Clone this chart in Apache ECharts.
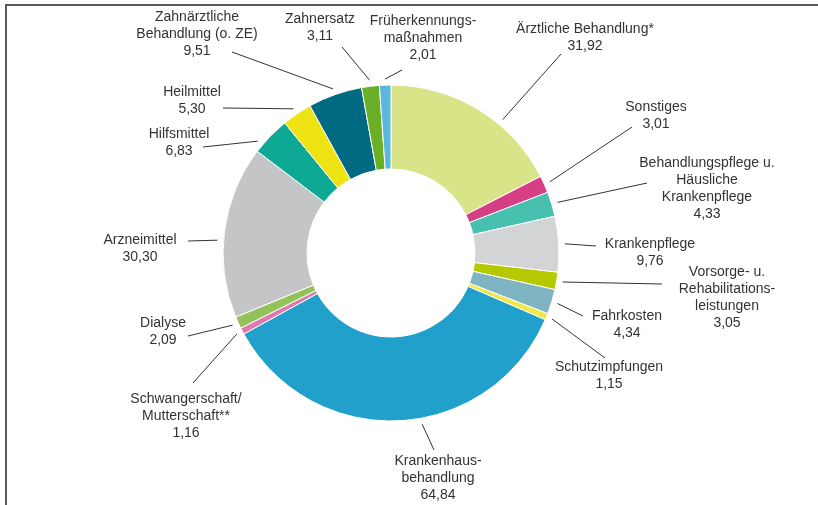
<!DOCTYPE html>
<html>
<head>
<meta charset="utf-8">
<script src="https://cdn.jsdelivr.net/npm/echarts@6/dist/echarts.min.js"></script>
<style>
  html, body { margin: 0; padding: 0; background: #fff; }
  #chart { width: 818px; height: 505px; }
  .frame { position: absolute; left: 5px; top: 4px; right: 0; bottom: 0;
    border-left: 2px solid #5a5a5a; border-top: 2px solid #5a5a5a; pointer-events: none; }
</style>
</head>
<body>
<div id="chart"></div>
<div class="frame"></div>
<script>
// Ausgaben in Mrd. Euro, im Uhrzeigersinn ab 12 Uhr
const names = [
  'Ärztliche Behandlung*',
  'Sonstiges',
  'Behandlungspflege u.\nHäusliche\nKrankenpflege',
  'Krankenpflege',
  'Vorsorge- u.\nRehabilitations-\nleistungen',
  'Fahrkosten',
  'Schutzimpfungen',
  'Krankenhaus-\nbehandlung',
  'Schwangerschaft/\nMutterschaft**',
  'Dialyse',
  'Arzneimittel',
  'Hilfsmittel',
  'Heilmittel',
  'Zahnärztliche\nBehandlung (o. ZE)',
  'Zahnersatz',
  'Früherkennungs-\nmaßnahmen'
];
const values = [31.92, 3.01, 4.33, 9.76, 3.05, 4.34, 1.15, 64.84, 1.16, 2.09, 30.30, 6.83, 5.30, 9.51, 3.11, 2.01];
const colors = ['#d9e387', '#d63f86', '#47c0b0', '#d3d4d6', '#b5c900', '#7fb4c2', '#efe84a', '#21a0cc',
  '#e079b0', '#94c25a', '#c4c5c7', '#0ea994', '#efe413', '#006a82', '#6ab026', '#5ab8dc'];

// label placement (center x, top y) and leader line ends
const labelAt = [[585, 21], [656, 99], [707, 155], [650, 236], [727, 264], [627, 308], [609, 359], [438, 453],
  [186, 391], [163, 315], [140, 232], [179, 126], [192, 84], [197, 9], [320, 11], [423, 13]];
const leaderEnd = [[561, 54], [632, 127], [647, 183], [596, 246], [662, 284], [583, 316], [605, 358], [434, 450],
  [193, 383], [188, 336], [188, 241], [203, 147], [223, 108], [232, 52], [342, 47], [402, 70]];
const leaderShift = [8.5, 0, 0, 0, 0, 0, 0, -7.6, 0, 0, -3.2, -4, 0, 0, 0, 0];

const cx = 391, cy = 253, rIn = 84, rOut = 168;
const total = values.reduce((a, b) => a + b, 0);
const midAngle = [];
let acc = 0;
values.forEach((v) => { midAngle.push((acc + v / 2) / total * 360); acc += v; });

const fmt = (v) => v.toFixed(2).replace('.', ',');

const chart = echarts.init(document.getElementById('chart'));
chart.setOption({
  animation: false,
  series: [{
    type: 'pie',
    center: [cx, cy],
    radius: [rIn, rOut],
    startAngle: 90,
    clockwise: true,
    avoidLabelOverlap: false,
    itemStyle: { borderColor: '#fff', borderWidth: 1 },
    label: {
      position: 'outside',
      formatter: (p) => p.name + '\n' + fmt(p.value),
      fontFamily: '"Liberation Sans", Arial, sans-serif',
      fontSize: 14,
      lineHeight: 17,
      color: '#333',
      align: 'center'
    },
    labelLine: { show: true, lineStyle: { color: '#333', width: 1 } },
    labelLayout: (params) => {
      const i = params.dataIndex;
      const a = (midAngle[i] + leaderShift[i]) * Math.PI / 180;
      const r = rOut + 6;
      const start = [cx + r * Math.sin(a), cy - r * Math.cos(a)];
      return {
        x: labelAt[i][0],
        y: labelAt[i][1],
        align: 'center',
        verticalAlign: 'top',
        labelLinePoints: [start, leaderEnd[i]]
      };
    },
    data: names.map((n, i) => ({ name: n, value: values[i], itemStyle: { color: colors[i] } }))
  }]
});
</script>
</body>
</html>
